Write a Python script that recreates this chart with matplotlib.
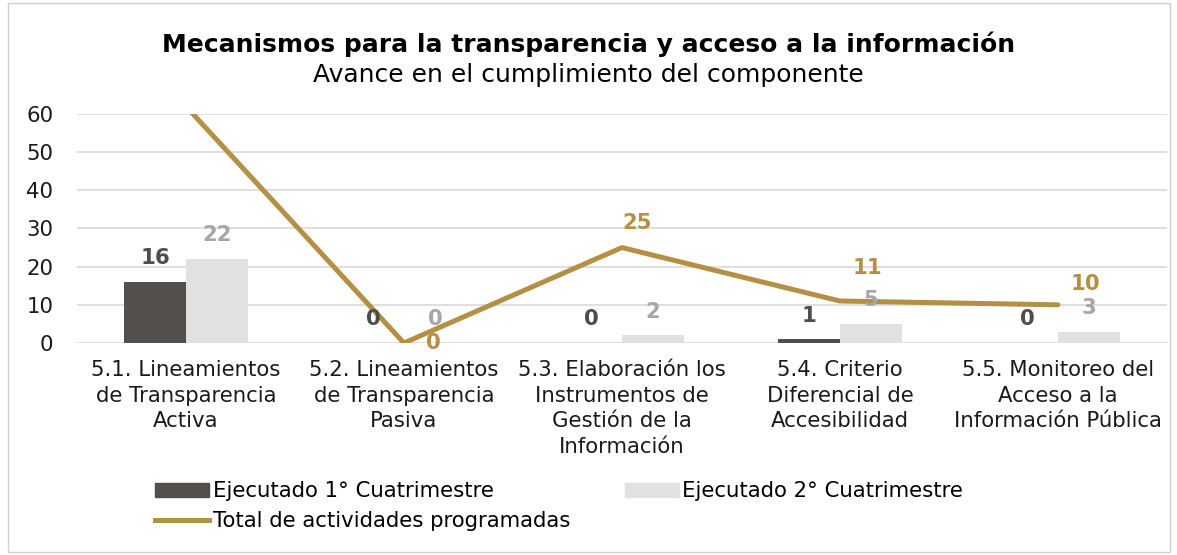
import numpy as np
import matplotlib.pyplot as plt
from matplotlib.patches import Patch, Rectangle
from matplotlib.lines import Line2D

categorias = ["5.1. Lineamientos\nde Transparencia\nActiva",
              "5.2. Lineamientos\nde Transparencia\nPasiva",
              "5.3. Elaboración los\nInstrumentos de\nGestión de la\nInformación",
              "5.4. Criterio\nDiferencial de\nAccesibilidad",
              "5.5. Monitoreo del\nAcceso a la\nInformación Pública"]
ejecutado_1 = [16, 0, 0, 1, 0]
ejecutado_2 = [22, 0, 2, 5, 3]
total_programadas = [62, 0, 25, 11, 10]

c_dark = "#524f4c"
c_light = "#e1e1e1"
c_gold = "#b58f44"
fs = 15.3

fig = plt.figure(figsize=(11.77, 5.55), dpi=100)
ax = fig.add_axes([0.0654, 0.382, 0.926, 0.4126])

x = np.arange(len(categorias))
w = 0.284
ax.bar(x - w / 2, ejecutado_1, w, color=c_dark, zorder=2)
ax.bar(x + w / 2, ejecutado_2, w, color=c_light, zorder=2)
ax.plot(x, total_programadas, color=c_gold, lw=3.6, zorder=3,
        solid_capstyle="round", solid_joinstyle="round")

for xi, v in zip(x, ejecutado_1):
    ax.annotate(str(v), (xi - w / 2, v), xytext=(0, 17), textcoords="offset points",
                ha="center", va="center", fontsize=fs, fontweight="bold", color="#4d4d4d")
for xi, v in zip(x, ejecutado_2):
    ax.annotate(str(v), (xi + w / 2, v), xytext=(0, 17), textcoords="offset points",
                ha="center", va="center", fontsize=fs, fontweight="bold", color="#a6a6a6")

# posiciones de las etiquetas de la linea (ajustadas a mano como en el original)
desplaz = [(0, 18), (21, 0), (11, 18), (20, 24), (20, 15)]
for xi, v, d in zip(x, total_programadas, desplaz):
    ax.annotate(str(v), (xi, v), xytext=d, textcoords="offset points",
                ha="center", va="center", fontsize=fs, fontweight="bold",
                color=c_gold, annotation_clip=True)

ax.set_xlim(-0.5, 4.5)
ax.set_ylim(0, 60)
ax.set_yticks(range(0, 61, 10))
ax.grid(axis="y", color="#d9d9d9", lw=1.2, zorder=0)
for s in ax.spines.values():
    s.set_visible(False)
ax.tick_params(axis="both", length=0, labelsize=fs, colors="#1a1a1a")
ax.tick_params(axis="y", pad=17)
ax.set_xticks(x)
ax.set_xticklabels(categorias, linespacing=1.37, va="top")
ax.tick_params(axis="x", pad=12)

fig.text(0.5, 0.92, "Mecanismos para la transparencia y acceso a la información",
         ha="center", va="center", fontsize=18, fontweight="bold", color="#000000")
fig.text(0.5, 0.864, "Avance en el cumplimiento del componente",
         ha="center", va="center", fontsize=18, color="#000000")

handles = [Patch(color=c_dark, label="Ejecutado 1° Cuatrimestre"),
           Line2D([], [], color=c_gold, lw=3.6, label="Total de actividades programadas"),
           Patch(color=c_light, label="Ejecutado 2° Cuatrimestre")]
fig.legend(handles=handles, ncol=2, loc="upper left", bbox_to_anchor=(0.1225, 0.152),
           frameon=False, fontsize=fs, handlelength=2.57, handleheight=0.6,
           handletextpad=0.15, columnspacing=2.57, labelspacing=0.45, borderpad=0)

fig.patches.append(Rectangle((0.007, 0.005), 0.987, 0.99, transform=fig.transFigure,
                             fill=False, edgecolor="#d0d0d0", lw=1))

fig.savefig("out.png", dpi=100)
